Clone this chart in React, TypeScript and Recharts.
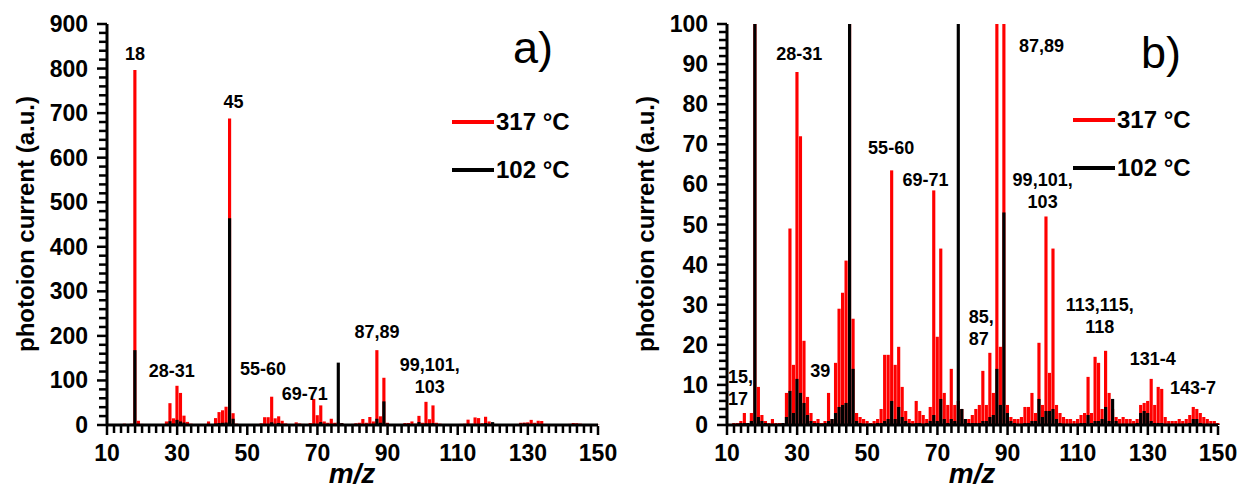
import React from "react";
import { ComposedChart, Bar, XAxis, YAxis, ReferenceDot } from "recharts";

const FONT = "'Liberation Sans', Arial, sans-serif";

// first m/z of the spectra below, one value per integer m/z up to 150
const firstMz = 12;

// photoion current (a.u.) at 317 °C
const red317 = [
  0.5, 0.5, 1, 3, 0.5, 3, 797, 9.5, 2.5, 1, // 12-21
  0.5, 1.5, 0.5, 0.5, 0.5, 8, 49, 15, 88, 72, // 22-31
  21, 7, 3, 1, 1.5, 0.5, 1, 8, 1.5, 15.5, // 32-41
  29, 33, 41, 688, 26.5, 3, 2, 1.5, 1, 0.5, // 42-51
  1, 1.5, 4, 17.5, 17.5, 63.5, 15, 19.5, 9.5, 3.5, // 52-61
  1.5, 1, 6, 3.5, 2.5, 1.5, 4.5, 58.5, 22, 44, // 62-71
  8, 5, 14, 5, 6, 4, 1.5, 1.5, 2.5, 4, // 72-81
  5, 13.5, 5, 18, 8, 168, 19.5, 106, 5, 2, // 82-91
  1.5, 1.5, 2, 4.5, 4.5, 8, 3, 20.5, 5, 52, // 92-101
  13, 44, 5, 3, 2, 1.5, 1.5, 1, 1.5, 2.5, // 102-111
  3, 12, 3, 17, 15.5, 4, 18.5, 8, 4, 2, // 112-121
  1.5, 2, 1.5, 1.5, 1, 1.5, 5, 5.5, 6, 11.5, // 122-131
  5, 9.5, 9, 2, 1, 1, 1, 1.5, 1, 1.5, // 132-141
  2.5, 4.5, 4, 3, 2, 1.5, 1, 1, 0.5, // 142-150
];

// photoion current (a.u.) at 102 °C
const black102 = [
  0.3, 0.3, 0.5, 0.5, 0.5, 1, 168, 2, 1, 0.5, // 12-21
  0.3, 0.3, 0.3, 0.3, 0.5, 2, 8.5, 3, 11.5, 8, // 22-31
  5.5, 2.5, 1, 0.5, 0.5, 0.3, 0.5, 1, 1.5, 3, // 32-41
  4.5, 5, 5.5, 464, 14, 1, 0.5, 0.3, 0.3, 0.3, // 42-51
  0.3, 0.5, 0.5, 1, 1.5, 6, 1.5, 4.5, 2, 1, // 52-61
  0.5, 0.3, 0.5, 0.5, 0.3, 0.5, 1, 2.5, 1, 6.5, // 62-71
  1.5, 0.5, 1.5, 1, 140, 4, 1.5, 0.5, 0.5, 0.5, // 72-81
  0.5, 1, 1, 2, 2.5, 14, 5, 53, 3, 1, // 82-91
  0.5, 0.3, 0.3, 0.5, 0.5, 1, 1, 6.5, 2, 3.5, // 92-101
  3.5, 4, 1.5, 0.5, 0.3, 0.3, 0.3, 0.3, 0.3, 0.5, // 102-111
  0.5, 2.5, 0.5, 1, 1, 1.5, 4.5, 1, 6.5, 1, // 112-121
  0.3, 0.3, 0.3, 0.3, 0.3, 0.5, 3, 3.5, 3, 1, // 122-131
  0.5, 0.5, 0.5, 0.3, 0.3, 0.3, 0.3, 0.3, 0.3, 0.3, // 132-141
  0.5, 1.5, 1.5, 0.5, 0.3, 0.3, 0.3, 0.3, 0.3, // 142-150
];

const xTickLabels = [10, 30, 50, 70, 90, 110, 130, 150];
const yTickLabelsA = [0, 100, 200, 300, 400, 500, 600, 700, 800, 900];
const yTickLabelsB = [0, 10, 20, 30, 40, 50, 60, 70, 80, 90, 100];

const seriesNames = ["317 °C", "102 °C"];

// peak group labels: m/z, intensity of the text centre, text lines
type Note = { x: number; y: number; lines: string[]; anchor?: "start" | "middle" };

const notesA: Note[] = [
  { x: 18, y: 834, lines: ["18"] },
  { x: 46.1, y: 725, lines: ["45"] },
  { x: 28.5, y: 123, lines: ["28-31"] },
  { x: 54.5, y: 127, lines: ["55-60"] },
  { x: 66.4, y: 71, lines: ["69-71"] },
  { x: 87, y: 209, lines: ["87,89"] },
  { x: 102, y: 111, lines: ["99,101,", "103"] },
];

const notesB: Note[] = [
  { x: 10.3, y: 9.25, lines: ["15,", "17"], anchor: "start" },
  { x: 30.6, y: 92.7, lines: ["28-31"] },
  { x: 36.6, y: 13.5, lines: ["39"] },
  { x: 56.8, y: 69.2, lines: ["55-60"] },
  { x: 66.6, y: 61.1, lines: ["69-71"] },
  { x: 99.7, y: 94.6, lines: ["87,89"] },
  { x: 78.9, y: 24.2, lines: ["85,", "87"], anchor: "start" },
  { x: 100, y: 58.5, lines: ["99,101,", "103"] },
  { x: 116.3, y: 27.4, lines: ["113,115,", "118"] },
  { x: 131.4, y: 16.5, lines: ["131-4"] },
  { x: 142.9, y: 9.4, lines: ["143-7"] },
];

const table = red317.map((v, i) => ({ mz: firstMz + i, red: v, black: black102[i] }));

const stepTicks = (from: number, to: number, step: number) => {
  const out: number[] = [];
  for (let v = from; v <= to + 1e-9; v += step) out.push(Math.round(v * 100) / 100);
  return out;
};

// plot box of each panel, in the panel's own pixels
const PANEL_W = 620;
const PLOT_TOP = 24;
const PLOT_BOTTOM = 425;
const PLOT_LEFT = 107;
const PLOT_RIGHT_MARGIN = 22;
const TS = 6; // recharts tickSize
const TM = 2; // recharts tickMargin

const XTick = (props: any) => {
  const { x, y, payload } = props;
  if (!xTickLabels.includes(payload.value)) return <g />;
  const axisY = y - TS - TM;
  return (
    <text x={x} y={axisY + 36} textAnchor="middle" fontFamily={FONT} fontWeight="bold" fontSize={23} fill="#000">
      {payload.value}
    </text>
  );
};

const makeYTick = (labels: number[]) => (props: any) => {
  const { x, y, payload } = props;
  if (!labels.includes(payload.value)) return <g />;
  const axisX = x + TS + TM;
  return (
    <text x={axisX - 19} y={y + 8} textAnchor="end" fontFamily={FONT} fontWeight="bold" fontSize={23} fill="#000">
      {payload.value}
    </text>
  );
};

const NoteLabel = (props: any) => {
  const { viewBox, note } = props;
  const cx = viewBox.x + (viewBox.width || 0) / 2;
  const cy = viewBox.y + (viewBox.height || 0) / 2;
  const n = note.lines.length;
  return (
    <text fontFamily={FONT} fontWeight="bold" fontSize={18} fill="#000" textAnchor={note.anchor || "middle"}>
      {note.lines.map((s: string, i: number) => (
        <tspan key={i} x={cx} y={cy + (i - (n - 1) / 2) * 22 + 6.5}>
          {s}
        </tspan>
      ))}
    </text>
  );
};

function Panel({ yMax, yLabels, yStep, notes }: { yMax: number; yLabels: number[]; yStep: number; notes: Note[] }) {
  return (
    <ComposedChart
      width={PANEL_W}
      height={494}
      data={table}
      margin={{ top: PLOT_TOP, right: PLOT_RIGHT_MARGIN, bottom: 0, left: PLOT_LEFT - 60 }}
    >
      <XAxis
        xAxisId="r"
        dataKey="mz"
        type="number"
        domain={[10, 150]}
        ticks={stepTicks(10, 150, 2)}
        interval={0}
        height={494 - PLOT_BOTTOM}
        tickSize={TS}
        tickMargin={TM}
        tickLine={false}
        axisLine={{ stroke: "#000", strokeWidth: 3 }}
        tick={XTick}
      />
      <XAxis xAxisId="k" dataKey="mz" type="number" domain={[10, 150]} orientation="top" height={0} hide />
      <YAxis
        type="number"
        domain={[0, yMax]}
        allowDataOverflow
        ticks={stepTicks(0, yMax, yStep)}
        interval={0}
        width={60}
        tickSize={TS}
        tickMargin={TM}
        tickLine={false}
        axisLine={{ stroke: "#000", strokeWidth: 3 }}
        tick={makeYTick(yLabels)}
      />
      <Bar xAxisId="r" dataKey="red" fill="#ff0000" barSize={4} isAnimationActive={false} />
      <Bar xAxisId="k" dataKey="black" fill="#000000" barSize={4} isAnimationActive={false} />
      {notes.map((n, i) => (
        <ReferenceDot
          key={i}
          xAxisId="r"
          x={n.x}
          y={n.y}
          r={0}
          fill="none"
          stroke="none"
          label={<NoteLabel note={n} />}
        />
      ))}
    </ComposedChart>
  );
}

// tick marks of one panel's axes, laid on the same plot box as the chart
function TickMarks({ off, yMax, yStep, yLabels }: { off: number; yMax: number; yStep: number; yLabels: number[] }) {
  const plotW = PANEL_W - PLOT_LEFT - PLOT_RIGHT_MARGIN;
  const plotH = PLOT_BOTTOM - PLOT_TOP;
  return (
    <g>
      {stepTicks(10, 150, 2).map((v) => {
        const px = off + PLOT_LEFT + ((v - 10) / 140) * plotW;
        const major = xTickLabels.includes(v);
        return <rect key={`x${v}`} x={px - 1.25} y={PLOT_BOTTOM + 1} width={2.5} height={major ? 9 : 7} fill="#000" />;
      })}
      {stepTicks(0, yMax, yStep).map((v) => {
        const py = PLOT_TOP + (1 - v / yMax) * plotH;
        const len = yLabels.includes(v) ? 10 : 8;
        return <rect key={`y${v}`} x={off + PLOT_LEFT - len} y={py - 1.25} width={len} height={2.5} fill="#000" />;
      })}
    </g>
  );
}

function Overlay() {
  const boldText = { fontFamily: FONT, fontWeight: "bold" as const, fontSize: 24, fill: "#000" };
  const legend = (x0: number, y0: number) => (
    <g>
      <line x1={x0} x2={x0 + 42} y1={y0} y2={y0} stroke="#ff0000" strokeWidth={4} />
      <text x={x0 + 44} y={y0 + 8} {...boldText}>
        {seriesNames[0]}
      </text>
      <line x1={x0} x2={x0 + 42} y1={y0 + 48} y2={y0 + 48} stroke="#000" strokeWidth={4} />
      <text x={x0 + 44} y={y0 + 56} {...boldText}>
        {seriesNames[1]}
      </text>
    </g>
  );
  return (
    <svg width={1240} height={494} style={{ position: "absolute", left: 0, top: 0, pointerEvents: "none" }}>
      <TickMarks off={0} yMax={900} yStep={20} yLabels={yTickLabelsA} />
      <TickMarks off={PANEL_W} yMax={100} yStep={2} yLabels={yTickLabelsB} />
      {[25, 645].map((cx) => (
        <text key={cx} x={cx} y={224} transform={`rotate(-90 ${cx} 224)`} textAnchor="middle" dominantBaseline="central" {...boldText}>
          photoion current (a.u.)
        </text>
      ))}
      {[352, 972].map((cx) => (
        <text key={cx} x={cx} y={483} textAnchor="middle" fontFamily={FONT} fontWeight="bold" fontStyle="italic" fontSize={28} fill="#000">
          m/z
        </text>
      ))}
      <text x={513} y={63} fontFamily={FONT} fontSize={45} fill="#000">
        a)
      </text>
      <text x={1141} y={68} fontFamily={FONT} fontSize={45} fill="#000">
        b)
      </text>
      {legend(452, 122)}
      {legend(1073, 120)}
    </svg>
  );
}

export default function App() {
  return (
    <div style={{ position: "absolute", left: 0, top: 0, width: 1240, height: 494, background: "#fff" }}>
      <div style={{ position: "absolute", left: 0, top: 0 }}>
        <Panel yMax={900} yLabels={yTickLabelsA} yStep={20} notes={notesA} />
      </div>
      <div style={{ position: "absolute", left: PANEL_W, top: 0 }}>
        <Panel yMax={100} yLabels={yTickLabelsB} yStep={2} notes={notesB} />
      </div>
      <Overlay />
    </div>
  );
}
